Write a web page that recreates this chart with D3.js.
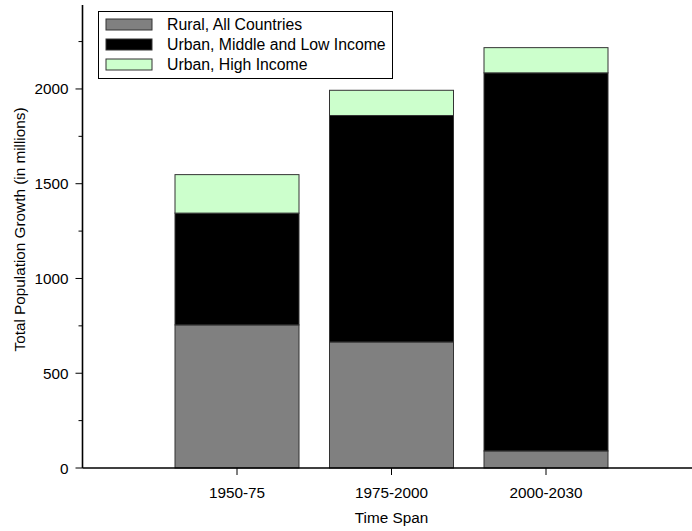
<!DOCTYPE html>
<html>
<head>
<meta charset="utf-8">
<script src="https://cdn.jsdelivr.net/npm/d3@7"></script>
<style>
  html, body { margin: 0; padding: 0; background: #fff; }
  svg { display: block; font-family: "Liberation Sans", Arial, sans-serif; }
</style>
</head>
<body>
<svg id="chart" width="692" height="531"></svg>
<script>
const categories = ["1950-75", "1975-2000", "2000-2030"];
const seriesNames = ["Rural, All Countries", "Urban, Middle and Low Income", "Urban, High Income"];
const rural = [755, 665, 90];
const urbanLow = [590, 1195, 1995];
const urbanHigh = [203, 133, 133];
const seriesColors = ["#808080", "#000000", "#ccffcc"];
const yTicks = [0, 500, 1000, 1500, 2000];
const yMinorTicks = [250, 750, 1250, 1750, 2250];

const svg = d3.select("#chart");
const x0 = 82.5, yBase = 468;
const fs = 15.3;

const x = d3.scaleLinear().domain([0, 4]).range([x0, x0 + 4 * 154.5]);
const y = d3.scaleLinear().domain([0, 2443]).range([yBase, 5]);
const barW = 124;

const rows = categories.map((c, i) => ({ cat: c, i, v: [rural[i], urbanLow[i], urbanHigh[i]] }));
const stacked = d3.stack().keys([0, 1, 2]).value((d, k) => d.v[k])(rows);

// bars
stacked.forEach((layer, k) => {
  svg.append("g").selectAll("rect").data(layer).join("rect")
    .attr("x", d => x(d.data.i + 1) - barW / 2)
    .attr("width", barW)
    .attr("y", d => y(d[1]))
    .attr("height", d => y(d[0]) - y(d[1]))
    .attr("fill", seriesColors[k])
    .attr("stroke", "#333")
    .attr("stroke-width", 1);
});

// y axis
const yAxis = svg.append("g").attr("transform", `translate(${x0},0)`);
yAxis.append("line").attr("x1", 0).attr("x2", 0).attr("y1", 5).attr("y2", yBase)
  .attr("stroke", "#000").attr("stroke-width", 1.6);
yAxis.selectAll(".maj").data(yTicks).join("line")
  .attr("x1", -7).attr("x2", 0).attr("y1", d => y(d)).attr("y2", d => y(d))
  .attr("stroke", "#000").attr("stroke-width", 1);
yAxis.selectAll(".min").data(yMinorTicks).join("line")
  .attr("x1", -4).attr("x2", 0).attr("y1", d => y(d)).attr("y2", d => y(d))
  .attr("stroke", "#000").attr("stroke-width", 1);
yAxis.selectAll("text").data(yTicks).join("text")
  .attr("x", -14).attr("y", d => y(d)).attr("dy", "0.36em")
  .attr("text-anchor", "end").attr("font-size", fs).text(d => d);

// x axis
const xAxis = svg.append("g");
xAxis.append("line").attr("x1", x0).attr("x2", 692).attr("y1", yBase).attr("y2", yBase)
  .attr("stroke", "#000").attr("stroke-width", 1.6);
xAxis.selectAll(".tk").data(categories).join("line")
  .attr("x1", (d, i) => x(i + 1)).attr("x2", (d, i) => x(i + 1))
  .attr("y1", yBase).attr("y2", yBase + 7)
  .attr("stroke", "#000").attr("stroke-width", 1);
xAxis.selectAll("text").data(categories).join("text")
  .attr("x", (d, i) => x(i + 1)).attr("y", 498)
  .attr("text-anchor", "middle").attr("font-size", fs).text(d => d);

svg.append("text").attr("x", x(2)).attr("y", 523)
  .attr("text-anchor", "middle").attr("font-size", fs).text("Time Span");
svg.append("text")
  .attr("transform", `translate(25,${(107 + 352) / 2}) rotate(-90)`)
  .attr("text-anchor", "middle").attr("font-size", fs)
  .text("Total Population Growth (in millions)");

// legend
const lg = svg.append("g");
lg.append("rect").attr("x", 98.5).attr("y", 11.5).attr("width", 294).attr("height", 67)
  .attr("fill", "#fff").attr("stroke", "#000").attr("stroke-width", 1);
seriesNames.forEach((n, k) => {
  const cy = 24.5 + k * 20;
  lg.append("rect").attr("x", 106).attr("y", cy - 5.5).attr("width", 46).attr("height", 11)
    .attr("fill", seriesColors[k]).attr("stroke", "#333").attr("stroke-width", 1);
  lg.append("text").attr("x", 167).attr("y", cy).attr("dy", "0.36em")
    .attr("font-size", 15.8).text(n);
});
</script>
</body>
</html>
